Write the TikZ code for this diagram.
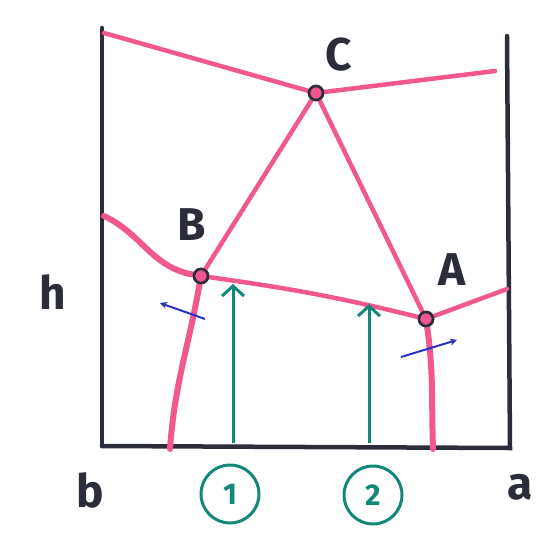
\documentclass[tikz,border=0pt]{standalone}
\usepackage{fontspec}
\setmainfont{Fira Sans}
\usetikzlibrary{arrows.meta}
\definecolor{pinkline}{HTML}{F2588F}
\definecolor{axisc}{HTML}{2B2D3A}
\definecolor{tealc}{HTML}{148878}
\definecolor{bluec}{HTML}{2A33C8}
\tikzset{
  axis/.style={axisc, line width=4.5pt, line cap=round},
  phase/.style={pinkline, line width=4.5pt, line cap=round},
  phasethick/.style={pinkline, line width=6pt, line cap=round},
  triple/.style={circle, draw=axisc, fill=pinkline, line width=2.6pt, minimum size=14pt, inner sep=0pt},
  path1/.style={tealc, line width=3pt, -{Straight Barb[length=10pt, width=22pt, line width=3pt]}},
  drift/.style={bluec, line width=2pt, -{Stealth[length=7pt, width=7pt]}},
  lbl/.style={font=\fontsize{46}{46}\selectfont\bfseries, text=axisc, inner sep=0pt},
  num/.style={circle, draw=tealc, line width=3pt, minimum size=58pt, inner sep=0pt, text=tealc, font=\fontsize{30}{30}\selectfont\bfseries}
}
\begin{document}
\begin{tikzpicture}[x=1pt, y=-1pt]
\useasboundingbox (0,0) rectangle (554,541);
% axes
\coordinate (lt) at (102,28);
\coordinate (lb) at (102,446);
\coordinate (br) at (510,448);
\coordinate (rt) at (507,36);
\draw[axis] (lt) -- (lb);
\draw[axis] (lb) -- (br) -- (rt);
% triple points
\node[triple] (C) at (316,93) {};
\node[triple] (B) at (201,276) {};
\node[triple] (A) at (426,319) {};
% end points of boundaries
\coordinate (cl) at (104,33);
\coordinate (cr) at (495,71);
\coordinate (bl) at (104,216);
\coordinate (ar) at (507,289);
\coordinate (bb) at (170,449);
\coordinate (ab) at (433,449);
% boundaries
\draw[phase] (cl) -- (C);
\draw[phase] (C) -- (cr);
\draw[phase] (C) -- (B);
\draw[phase] (C) -- (A);
\draw[phasethick] (bl) to[out=-25, in=170] (B);
\draw[phase] (B) to[out=-8, in=166] (A);
\draw[phase] (A) -- (ar);
\draw[phasethick] (B) to[out=-100, in=86] (bb);
\draw[phasethick] (A) to[out=-82, in=92] (ab);
% redraw triple points on top
\node[triple] at (C) {};
\node[triple] at (B) {};
\node[triple] at (A) {};
% teal paths
\coordinate (p1s) at (233,443);
\coordinate (p1e) at (233,284);
\coordinate (p2s) at (369,443);
\coordinate (p2e) at (369,304);
\draw[path1] (p1s) -- (p1e);
\draw[path1] (p2s) -- (p2e);
% blue drift arrows
\coordinate (d1s) at (205,319);
\coordinate (d1e) at (160,303);
\coordinate (d2s) at (401,357);
\coordinate (d2e) at (457,340);
\draw[drift] (d1s) -- (d1e);
\draw[drift] (d2s) -- (d2e);
% labels
\node[lbl] (lC) at (339,55) {C};
\node[lbl] (lB) at (192,225) {B};
\node[lbl] (lA) at (452,270) {A};
\node[lbl] (lh) at (53,292) {h};
\node[lbl] (lb2) at (90,490) {b};
\node[lbl] (la) at (520,487) {a};
\node[num] (n1) at (230,494) {1};
\node[num] (n2) at (373,495) {2};
\end{tikzpicture}
\end{document}
